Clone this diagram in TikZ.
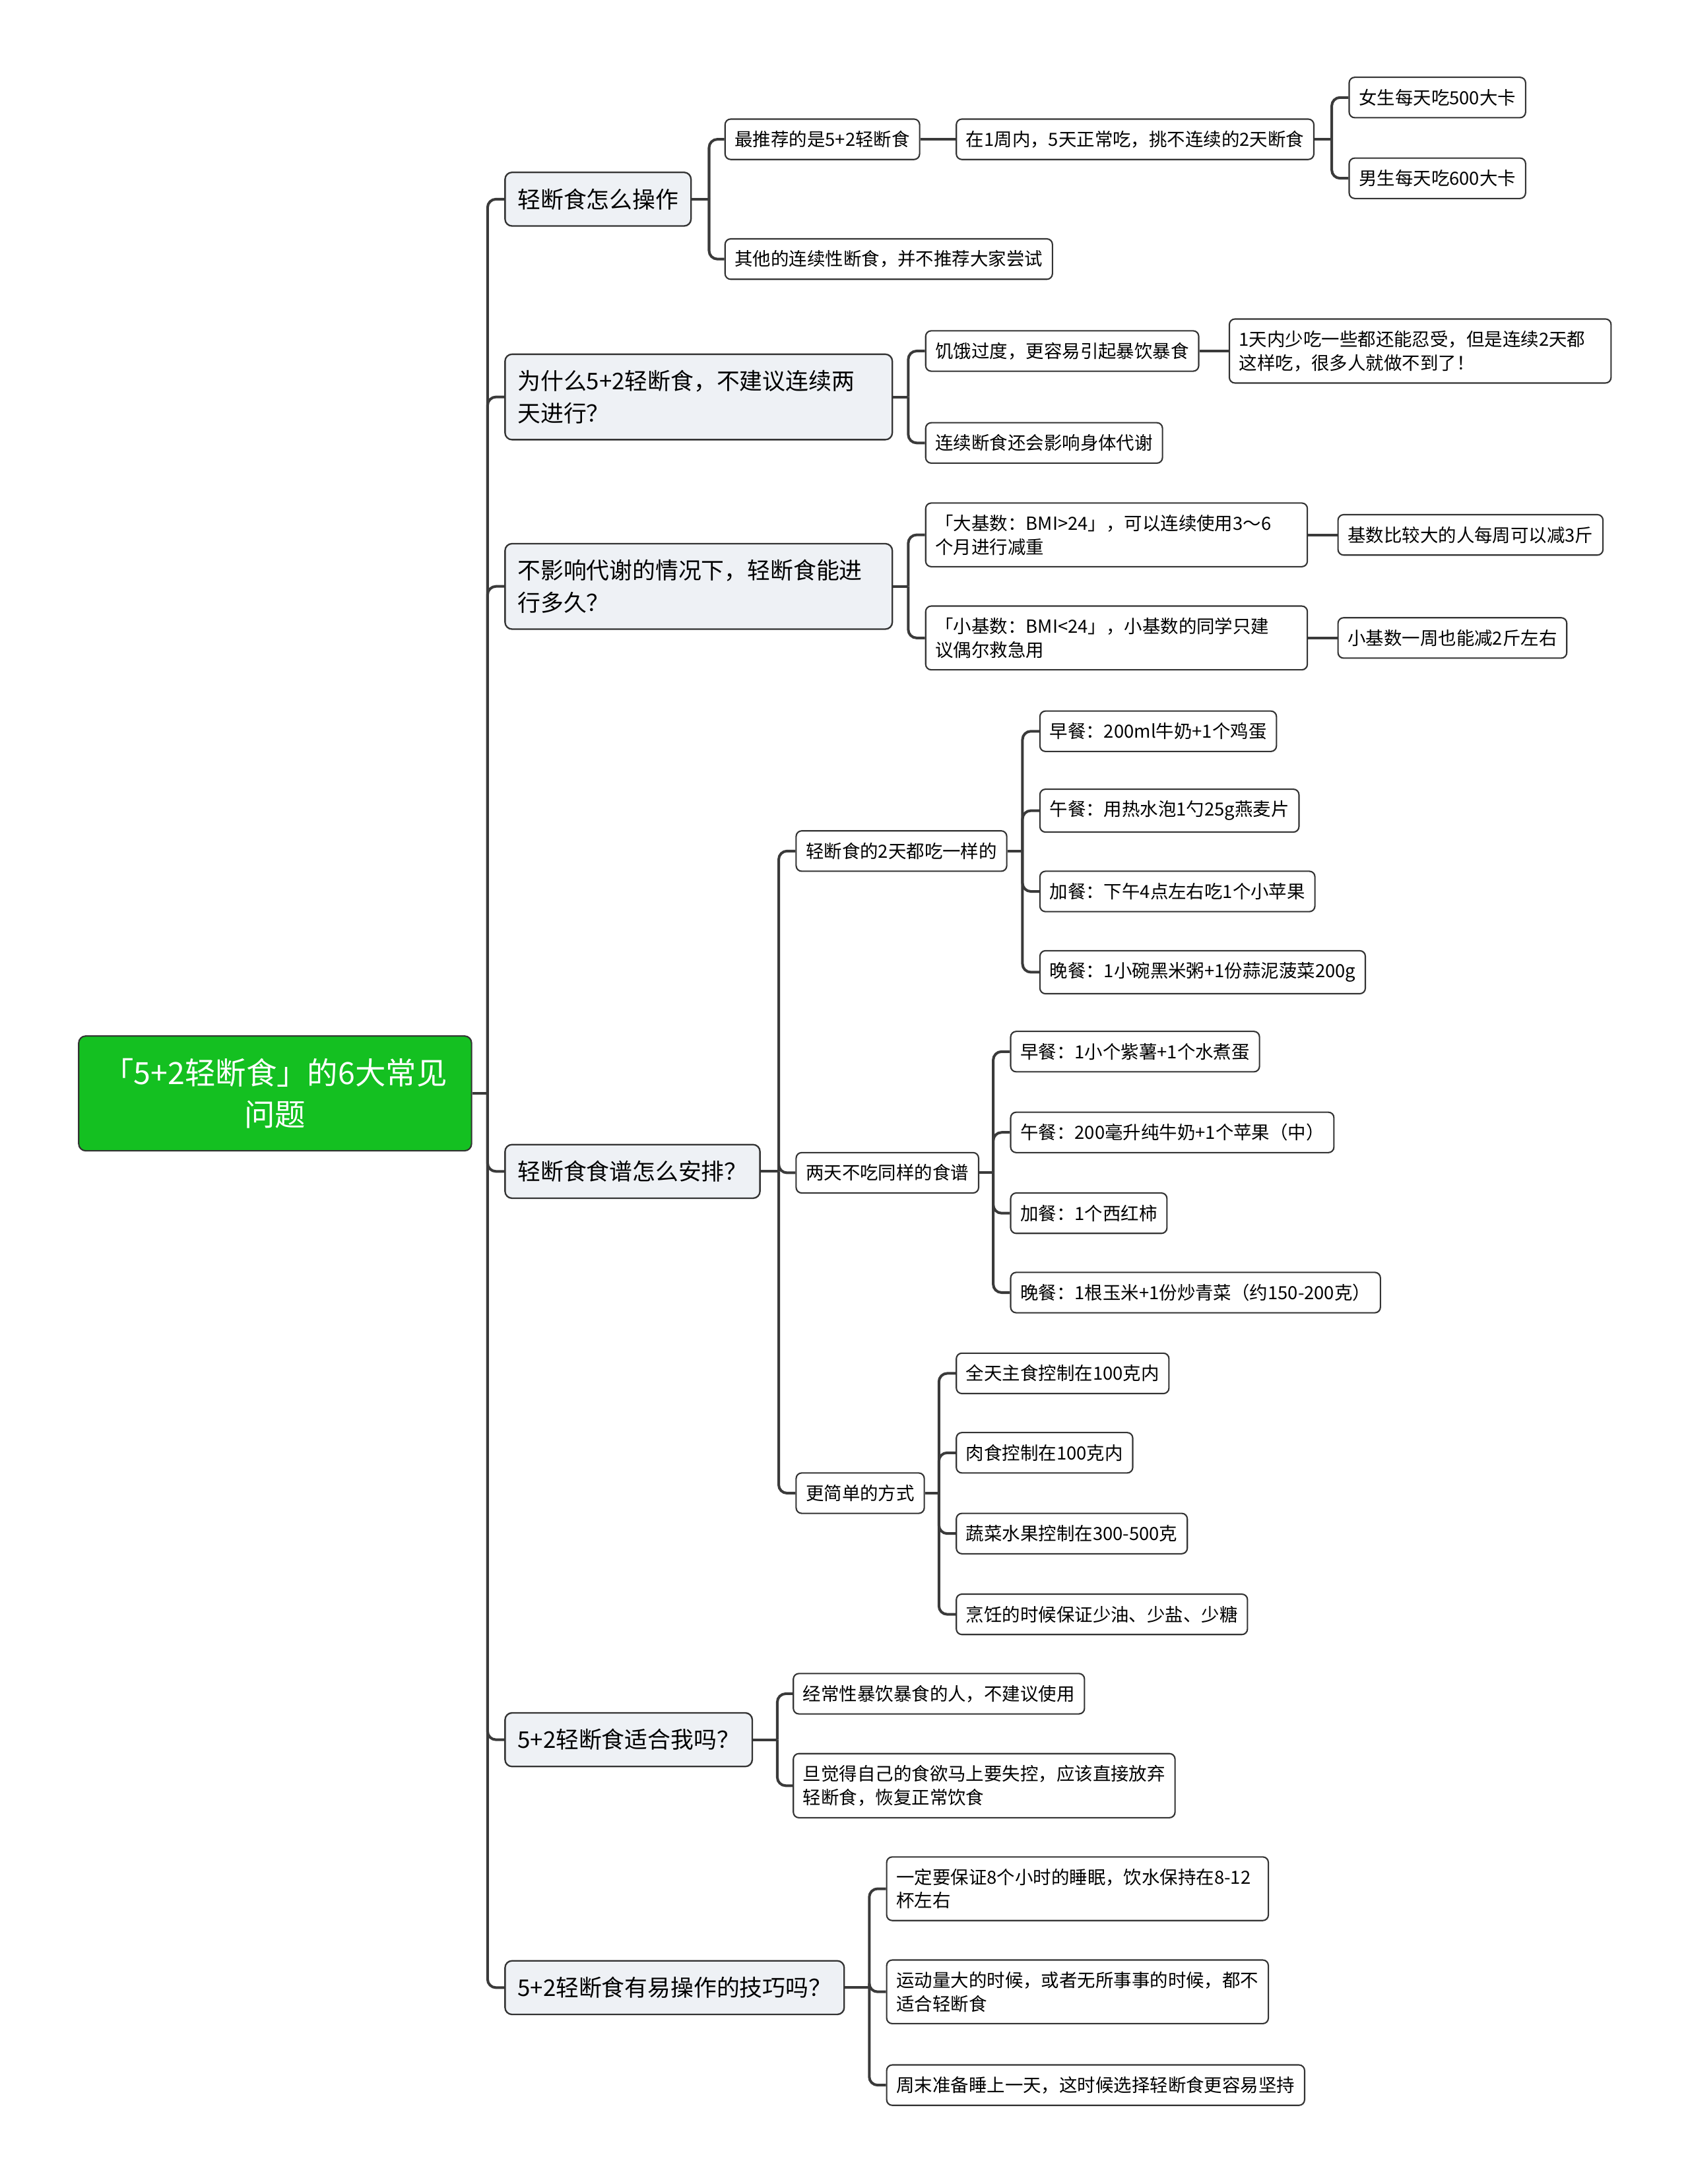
\documentclass[tikz,border=0pt]{standalone}
\usepackage{fontspec}
\setmainfont{Noto Sans CJK SC}
\definecolor{rootgreen}{RGB}{20,192,33}
\definecolor{topicfill}{RGB}{238,241,245}
\definecolor{boxline}{RGB}{51,51,51}
\definecolor{linkgray}{RGB}{58,58,58}

\begin{document}
\begin{tikzpicture}[
  x=1pt, y=-1pt,
  rootbox/.style={rounded corners=5pt, draw=boxline, line width=1pt,
    fill=rootgreen, text=white, align=center, anchor=west,
    font=\fontsize{22}{30}\selectfont, inner ysep=16pt,
    minimum width=282pt, minimum height=82pt},
  topic/.style={rounded corners=5pt, draw=boxline, line width=1.1pt,
    fill=topicfill, align=left, anchor=west, inner xsep=9pt,
    inner ysep=11.5pt, minimum height=38.5pt,
    font=\fontsize{16.5}{23}\selectfont},
  leaf/.style={rounded corners=4pt, draw=boxline, line width=1pt,
    fill=white, align=left, anchor=west, inner xsep=7pt,
    inner ysep=8.3pt, minimum height=29pt,
    font=\fontsize{13}{17}\selectfont},
  wide/.style={text width=260pt},
  link/.style={draw=linkgray, line width=1.9pt, rounded corners=6pt}
]
% page frame, same proportions as the 2560x3310 original
\path[use as bounding box] (0,0) rectangle (1213,1568);

% root and the six questions
\node[rootbox] (root) at (56,785) {「5+2轻断食」的6大常见\\问题};
\node[topic] (t1) at (362,143) {轻断食怎么操作};
\node[topic, wide] (t2) at (362,285) {为什么5+2轻断食，不建议连续两\\天进行？};
\node[topic, wide] (t3) at (362,421) {不影响代谢的情况下，轻断食能进\\行多久？};
\node[topic] (t4) at (362,841) {轻断食食谱怎么安排？};
\node[topic] (t5) at (362,1249) {5+2轻断食适合我吗？};
\node[topic] (t6) at (362,1427) {5+2轻断食有易操作的技巧吗？};

% fork points of the brackets
\coordinate (k0) at (350,785);
\coordinate (k1) at (509,143);
\coordinate (k2) at (652,285);
\coordinate (k3) at (652,421);
\coordinate (k4) at (559,841);
\coordinate (k5) at (558,1249);
\coordinate (k6) at (624,1427);
\coordinate (k11) at (956,100);
\coordinate (k4a) at (734,611);
\coordinate (k4b) at (713,842);
\coordinate (k4c) at (674,1072);

% branch 1
\node[leaf] (a1) at (520,100) {最推荐的是5+2轻断食};
\node[leaf] (a11) at (686,100) {在1周内，5天正常吃，挑不连续的2天断食};
\node[leaf] (a111) at (968,70) {女生每天吃500大卡};
\node[leaf] (a112) at (968,128) {男生每天吃600大卡};
\node[leaf] (a2) at (520,186) {其他的连续性断食，并不推荐大家尝试};

% branch 2
\node[leaf] (b1) at (664,252) {饥饿过度，更容易引起暴饮暴食};
\node[leaf, wide] (b11) at (882,252) {1天内少吃一些都还能忍受，但是连续2天都\\这样吃，很多人就做不到了！};
\node[leaf] (b2) at (664,318) {连续断食还会影响身体代谢};

% branch 3
\node[leaf, wide] (c1) at (664,384) {「大基数：BMI>24」，可以连续使用3～6\\个月进行减重};
\node[leaf] (c11) at (960,384) {基数比较大的人每周可以减3斤};
\node[leaf, wide] (c2) at (664,458) {「小基数：BMI<24」，小基数的同学只建\\议偶尔救急用};
\node[leaf] (c21) at (960,458) {小基数一周也能减2斤左右};

% branch 4
\node[leaf] (d1) at (571,611) {轻断食的2天都吃一样的};
\node[leaf] (d11) at (746,525) {早餐：200ml牛奶+1个鸡蛋};
\node[leaf] (d12) at (746,582) {午餐：用热水泡1勺25g燕麦片};
\node[leaf] (d13) at (746,640) {加餐：下午4点左右吃1个小苹果};
\node[leaf] (d14) at (746,698) {晚餐：1小碗黑米粥+1份蒜泥菠菜200g};
\node[leaf] (d2) at (571,842) {两天不吃同样的食谱};
\node[leaf] (d21) at (725,755) {早餐：1小个紫薯+1个水煮蛋};
\node[leaf] (d22) at (725,813) {午餐：200毫升纯牛奶+1个苹果（中）};
\node[leaf] (d23) at (725,871) {加餐：1个西红柿};
\node[leaf] (d24) at (725,928) {晚餐：1根玉米+1份炒青菜（约150-200克）};
\node[leaf] (d3) at (571,1072) {更简单的方式};
\node[leaf] (d31) at (686,986) {全天主食控制在100克内};
\node[leaf] (d32) at (686,1043) {肉食控制在100克内};
\node[leaf] (d33) at (686,1101) {蔬菜水果控制在300-500克};
\node[leaf] (d34) at (686,1159) {烹饪的时候保证少油、少盐、少糖};

% branch 5
\node[leaf] (e1) at (569,1216) {经常性暴饮暴食的人，不建议使用};
\node[leaf, wide] (e2) at (569,1282) {旦觉得自己的食欲马上要失控，应该直接放弃\\轻断食，恢复正常饮食};

% branch 6
\node[leaf, wide] (f1) at (636,1356) {一定要保证8个小时的睡眠，饮水保持在8-12\\杯左右};
\node[leaf, wide] (f2) at (636,1430) {运动量大的时候，或者无所事事的时候，都不\\适合轻断食};
\node[leaf] (f3) at (636,1497) {周末准备睡上一天，这时候选择轻断食更容易坚持};

% connectors
\draw[link] (root.east) -- (k0);
\foreach \t in {t1,t2,t3,t4,t5,t6}
  \draw[link] (k0) |- (\t.west);

\draw[link] (t1.east) -- (k1);
\foreach \c in {a1,a2}
  \draw[link] (k1) |- (\c.west);
\draw[link] (a1.east) -- (a11.west);
\draw[link] (a11.east) -- (k11);
\foreach \c in {a111,a112}
  \draw[link] (k11) |- (\c.west);

\draw[link] (t2.east) -- (k2);
\foreach \c in {b1,b2}
  \draw[link] (k2) |- (\c.west);
\draw[link] (b1.east) -- (b11.west);

\draw[link] (t3.east) -- (k3);
\foreach \c in {c1,c2}
  \draw[link] (k3) |- (\c.west);
\draw[link] (c1.east) -- (c11.west);
\draw[link] (c2.east) -- (c21.west);

\draw[link] (t4.east) -- (k4);
\foreach \c in {d1,d2,d3}
  \draw[link] (k4) |- (\c.west);
\draw[link] (d1.east) -- (k4a);
\foreach \c in {d11,d12,d13,d14}
  \draw[link] (k4a) |- (\c.west);
\draw[link] (d2.east) -- (k4b);
\foreach \c in {d21,d22,d23,d24}
  \draw[link] (k4b) |- (\c.west);
\draw[link] (d3.east) -- (k4c);
\foreach \c in {d31,d32,d33,d34}
  \draw[link] (k4c) |- (\c.west);

\draw[link] (t5.east) -- (k5);
\foreach \c in {e1,e2}
  \draw[link] (k5) |- (\c.west);

\draw[link] (t6.east) -- (k6);
\foreach \c in {f1,f2,f3}
  \draw[link] (k6) |- (\c.west);
\end{tikzpicture}
\end{document}
